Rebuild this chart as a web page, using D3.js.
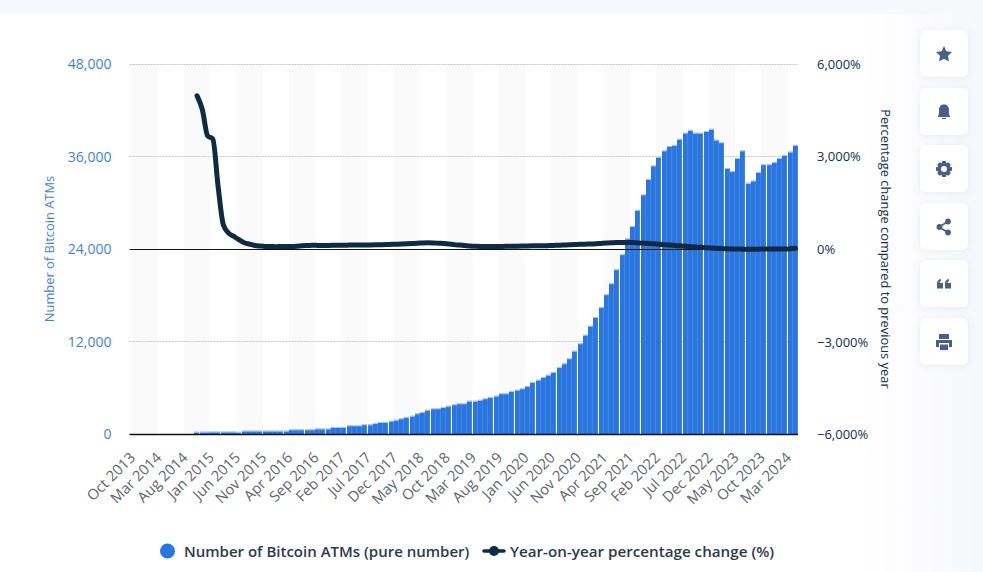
<!DOCTYPE html>
<html>
<head>
<meta charset="utf-8">
<script src="https://cdn.jsdelivr.net/npm/d3@7"></script>
<style>
  html, body { margin: 0; padding: 0; background: #f7f8fb; overflow: hidden; }
  text { font-family: "Open Sans", sans-serif; }
</style>
</head>
<body>
<script>
// data
const tickLabels = ["Oct 2013","Mar 2014","Aug 2014","Jan 2015","Jun 2015","Nov 2015","Apr 2016","Sep 2016","Feb 2017","Jul 2017","Dec 2017","May 2018","Oct 2018","Mar 2019","Aug 2019","Jan 2020","Jun 2020","Nov 2020","Apr 2021","Sep 2021","Feb 2022","Jul 2022","Dec 2022","May 2023","Oct 2023","Mar 2024"];
const firstMonth = 12; // series start at Oct 2014
const atms = [
  260,260,260,280,280,280,280,280,230,400,400,400,400,
  400,400,400,400,400,560,560,560,560,560,680,680,680,860,860,860,
  1080,1080,1080,1210,1210,1380,1510,1510,1684,1814,1986,2160,2332,2634,2807,3110,3283,3283,
  3456,3629,3802,3931,3931,4277,4277,4406,4579,4752,4925,5227,5227,5530,5702,5875,6178,6696,6998,7344,7646,7992,
  8640,9115,9763,10757,11707,12830,13997,15120,16416,18058,19483,21298,23242,
  25300,26900,29000,31000,33000,34750,35850,36700,37250,37400,38200,39000,39350,39000,
  39000,39200,39500,38100,37750,34400,34000,35700,36700,32500,32800,33900,34900,34900,35200,35700,36100,36550,37400
];
const yoy = [
  4970,4520,3675,3570,2035,793,524,415,308,210,168,123,104,
  91,88,85,88,90,92,100,115,122,128,125,122,125,
  130,132,132,134,135,135,138,140,142,145,150,158,165,172,180,188,195,205,
  210,205,195,185,170,150,135,120,105,95,
  90,88,88,90,92,95,98,100,105,108,110,112,113,
  118,125,130,138,145,152,158,165,170,
  178,190,200,208,215,218,220,
  215,205,198,190,175,165,150,135,123,
  110,95,85,75,62,50,40,32,22,16,
  10,6,4,3,2,4,6,6,8,10,12,20,35
];
const atmTicks = [0, 12000, 24000, 36000, 48000];
const yoyTicks = [-6000, -3000, 0, 3000, 6000];
const sideButtons = ["star", "bell", "gear", "share", "quote", "print"];

// all months from Oct 2013 to Apr 2024
const fmt = d3.timeFormat("%b %Y");
const categories = d3.timeMonths(new Date(2013, 9, 1), new Date(2024, 4, 1)).map(fmt);

const w = 983, h = 572;
const top_ = 64, bottom = 434.5, left = 131.5, right = 798;

const svg = d3.select("body").append("svg")
  .attr("width", w).attr("height", h).style("display", "block");

// card with rounded corner, fading to pale grey on the right
const defs = svg.append("defs");
const grad = defs.append("linearGradient").attr("id", "cardFade");
grad.append("stop").attr("offset", "0.88").attr("stop-color", "#ffffff");
grad.append("stop").attr("offset", "1").attr("stop-color", "#f6f7fb");
svg.append("rect").attr("x", -10).attr("y", 14).attr("width", 992).attr("height", 570)
  .attr("rx", 8).attr("fill", "url(#cardFade)");

const shadow = defs.append("filter").attr("id", "btnShadow")
  .attr("x", "-30%").attr("y", "-30%").attr("width", "160%").attr("height", "160%");
shadow.append("feDropShadow").attr("dx", 0).attr("dy", 1).attr("stdDeviation", 3)
  .attr("flood-color", "#8a97b0").attr("flood-opacity", 0.16);

const x = d3.scaleBand().domain(categories).range([left, right]);
const y = d3.scaleLinear().domain([0, 48000]).range([bottom, top_]);
const y2 = d3.scaleLinear().domain([-6000, 6000]).range([bottom, top_]);
const crisp = v => Math.floor(v) + 0.5;

// alternating stripes, 5 months wide
const stripes = d3.range(0, categories.length, 10);
svg.append("g").selectAll("rect").data(stripes).join("rect")
  .attr("x", d => x(categories[d]))
  .attr("y", top_)
  .attr("width", x.step() * 5)
  .attr("height", bottom - top_)
  .attr("fill", "#fafafa");

// grid
svg.append("g").selectAll("line").data(atmTicks.filter(d => d !== 0 && d !== 24000)).join("line")
  .attr("x1", left - 2).attr("x2", right)
  .attr("y1", d => crisp(y(d))).attr("y2", d => crisp(y(d)))
  .attr("stroke", "#c6c6c6").attr("stroke-dasharray", "2 1");

// bars, snapped to pixels
const barData = atms.map((v, i) => ({ m: categories[i + firstMonth], v }));
const bars = svg.append("g");
bars.selectAll("rect.bar").data(barData).join("rect")
  .attr("class", "bar")
  .attr("x", d => Math.round(x(d.m)))
  .attr("y", d => y(d.v))
  .attr("width", 5)
  .attr("height", d => bottom - y(d.v))
  .attr("fill", "#2a75de");
// thin lighter seam on the right edge and pale cap on top
bars.selectAll("rect.seam").data(barData).join("rect")
  .attr("class", "seam")
  .attr("x", d => Math.round(x(d.m)) + 4)
  .attr("y", d => y(d.v))
  .attr("width", 1)
  .attr("height", d => bottom - y(d.v))
  .attr("fill", "#4186e2");
bars.selectAll("rect.cap").data(barData).join("rect")
  .attr("class", "cap")
  .attr("x", d => Math.round(x(d.m)))
  .attr("y", d => y(d.v) - 1)
  .attr("width", 5)
  .attr("height", 1)
  .attr("fill", "#9dbff0");

// zero line and baseline
svg.append("line").attr("x1", left - 2).attr("x2", right)
  .attr("y1", crisp(y(24000))).attr("y2", crisp(y(24000))).attr("stroke", "#111").attr("stroke-width", 1);
svg.append("line").attr("x1", left - 2).attr("x2", right)
  .attr("y1", bottom).attr("y2", bottom).attr("stroke", "#111").attr("stroke-width", 1.5);

// yoy line
const line = d3.line()
  .x((d, i) => x(categories[i + firstMonth]) + x.bandwidth() / 2)
  .y(d => y2(d))
  .curve(d3.curveMonotoneX);
svg.append("path").datum(yoy)
  .attr("d", line)
  .attr("fill", "none")
  .attr("stroke", "#0f2a44")
  .attr("stroke-width", 5)
  .attr("stroke-linecap", "round")
  .attr("stroke-linejoin", "round");

// axes
const axisL = svg.append("g").attr("transform", `translate(${left},0)`)
  .call(d3.axisLeft(y).tickValues(atmTicks).tickSize(0).tickPadding(20).tickFormat(d3.format(",")));
axisL.select(".domain").remove();
axisL.selectAll("text").attr("fill", "#3f82e0").attr("font-size", 14).style("font-family", '"Open Sans"');

const axisR = svg.append("g").attr("transform", `translate(${right},0)`)
  .call(d3.axisRight(y2).tickValues(yoyTicks).tickSize(0).tickPadding(19)
    .tickFormat(d => d3.format(",")(d).replace("-", "\u2212") + "%"));
axisR.select(".domain").remove();
axisR.selectAll("text").attr("fill", "#10304f").attr("font-size", 13).style("font-family", '"Open Sans"');

const labelMonths = d3.range(0, categories.length, 5).map(i => categories[i]).filter(c => tickLabels.includes(c));
const axisB = svg.append("g").attr("transform", `translate(0,${bottom})`)
  .call(d3.axisBottom(x).tickValues(labelMonths).tickSize(0));
axisB.select(".domain").remove();
axisB.selectAll("text")
  .attr("fill", "#5f6670").attr("font-size", 14.7).style("font-family", '"Open Sans"')
  .attr("text-anchor", "end").attr("dy", 0).attr("y", 0)
  .attr("transform", "translate(2,24) rotate(-45)");

// axis titles
svg.append("text").attr("transform", "translate(54,249) rotate(-90)")
  .attr("text-anchor", "middle").attr("fill", "#3f82e0").attr("font-size", 12.9)
  .text("Number of Bitcoin ATMs");
svg.append("text").attr("transform", "translate(881,249) rotate(90)")
  .attr("text-anchor", "middle").attr("fill", "#10304f").attr("font-size", 12.9)
  .text("Percentage change compared to previous year");

// legend
const legend = svg.append("g");
legend.append("circle").attr("cx", 167.5).attr("cy", 551).attr("r", 7.5).attr("fill", "#2a75de");
legend.append("text").attr("x", 184).attr("y", 557).attr("fill", "#2b3a4a")
  .attr("font-size", 15).attr("font-weight", 600).text("Number of Bitcoin ATMs (pure number)");
legend.append("line").attr("x1", 484).attr("x2", 504).attr("y1", 551).attr("y2", 551)
  .attr("stroke", "#0f2a44").attr("stroke-width", 3.5).attr("stroke-linecap", "round");
legend.append("circle").attr("cx", 494).attr("cy", 551).attr("r", 5).attr("fill", "#0f2a44");
legend.append("text").attr("x", 510).attr("y", 557).attr("fill", "#2b3a4a")
  .attr("font-size", 15.2).attr("font-weight", 600).text("Year-on-year percentage change (%)");

// side buttons
const btnY = { star: 30, bell: 88, gear: 145, share: 203, quote: 260, print: 318 };
const dot = (cx, cy, r) => `M${cx - r} ${cy}a${r} ${r} 0 1 1 ${2 * r} 0a${r} ${r} 0 1 1 ${-2 * r} 0Z`;
const icons = {
  star: "M0-8 2.4-2.7 8-2 3.900 1.900 5 7.600 0 4.800-5 7.600-3.900 1.900-8-2-2.400-2.700Z",
  bell: "M-6 4C-4.500 2.500-5-1-5-2-5-5.500-3-7.500 0-7.500 3-7.500 5-5.500 5-2 5-1 4.500 2.500 6 4V5H-6ZM-2 6H2V7H-2Z",
  gear: "M-1.800-8H1.800L2.300-5.800 4.300-6.700 6.800-4.200 5.800-2.300 8-1.800V1.800L5.800 2.300 6.800 4.200 4.300 6.700 2.300 5.800 1.800 8H-1.800L-2.300 5.800-4.300 6.700-6.800 4.200-5.800 2.300-8 1.800V-1.800L-5.800-2.300-6.800-4.200-4.300-6.700-2.300-5.800ZM3 0A3 3 0 1 1-3 0 3 3 0 1 1 3 0Z",
  share: dot(-4.5, 0, 3) + dot(4, -5.5, 2.9) + dot(4, 5.5, 2.9) + "M-5-1 4-6.500V-4.500L-5 1ZM-5-1 4 4.500V6.500L-5 1Z",
  quote: "M-7 0C-7-3-5.500-4.500-3-5V-3C-4-2.700-4.500-2-4.500-1H-1V4.500H-7ZM1 0C1-3 2.500-4.500 5-5V-3C4-2.700 3.500-2 3.500-1H7V4.500H1Z",
  print: "M-5-8H5V-3H-5ZM-8-2H8V5H5V1H-5V5H-8ZM-4 2.500H4V8H-4Z"
};
const btn = svg.append("g").selectAll("g").data(sideButtons).join("g")
  .attr("transform", d => `translate(920,${btnY[d]})`);
btn.append("rect").attr("width", 48).attr("height", 47).attr("rx", 6)
  .attr("fill", "#fff").attr("filter", "url(#btnShadow)");
btn.append("path").attr("transform", "translate(24,24)")
  .attr("d", d => icons[d]).attr("fill", "#46608a")
  .attr("fill-rule", d => d === "gear" ? "evenodd" : "nonzero");
</script>
</body>
</html>
